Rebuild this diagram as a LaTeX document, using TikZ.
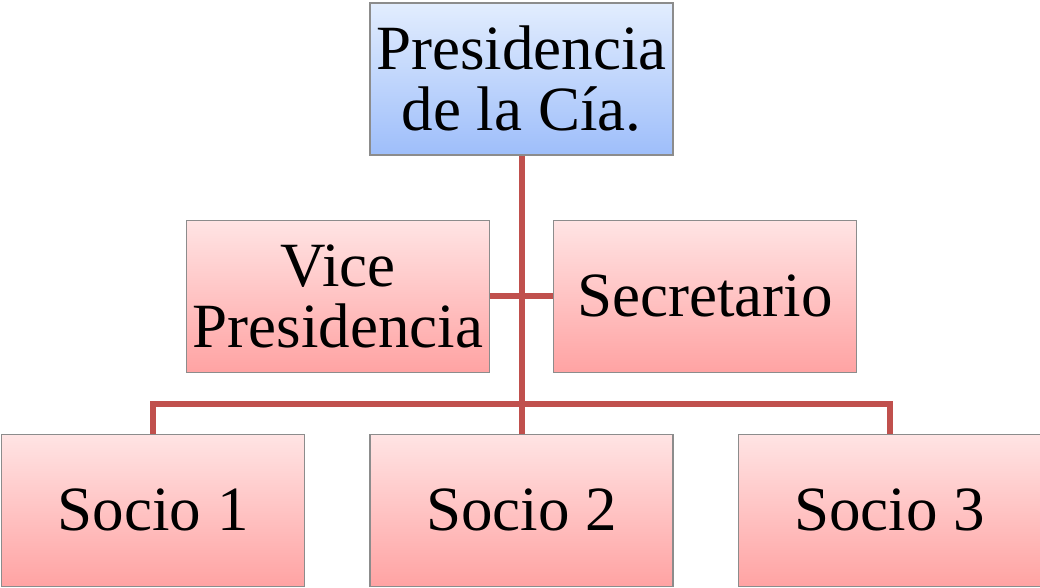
\documentclass[tikz,border=0pt]{standalone}
\usepackage{fontspec}
\setmainfont{Liberation Serif}
\usepackage{tikz}
\usetikzlibrary{positioning}

\definecolor{linkred}{HTML}{C0504D}
\definecolor{boxgray}{HTML}{8C8C8C}

\begin{document}
\begin{tikzpicture}[node distance={64pt},
		box/.style = {draw=boxgray, line width=1.2pt, minimum width=303pt, minimum height=152pt, inner sep=0pt, align=center, font=\fontsize{63}{61}\selectfont},
		main/.style = {box, top color={rgb,255:red,226;green,237;blue,254}, bottom color={rgb,255:red,158;green,190;blue,250}},
		sub/.style = {box, top color={rgb,255:red,255;green,228;blue,228}, bottom color={rgb,255:red,255;green,163;blue,163}},
		link/.style = {draw=linkred, line width=6pt}]
		\useasboundingbox (0,0) rectangle (1040pt,-588pt);
		\node[main] (pres) at (521.5pt,-79pt) {Presidencia\\de la Cía.};
		\node[sub] (vice) [below left=64pt and 31.5pt of pres.south] {Vice\\Presidencia};
		\node[sub] (sec) [below right=64pt and 31.5pt of pres.south] {Secretario};
		\node[sub] (socio2) [below=278pt of pres] {Socio 2};
		\node[sub] (socio1) [left=of socio2] {Socio 1};
		\node[sub] (socio3) [right=of socio2] {Socio 3};

		\draw[link] (pres.south) -- (socio2.north);
		\draw[link] (vice.east) -- (sec.west);
		\draw[link] (socio1.north) -- ++(0,30pt) -| (socio3.north);

	\end{tikzpicture}
\end{document}
